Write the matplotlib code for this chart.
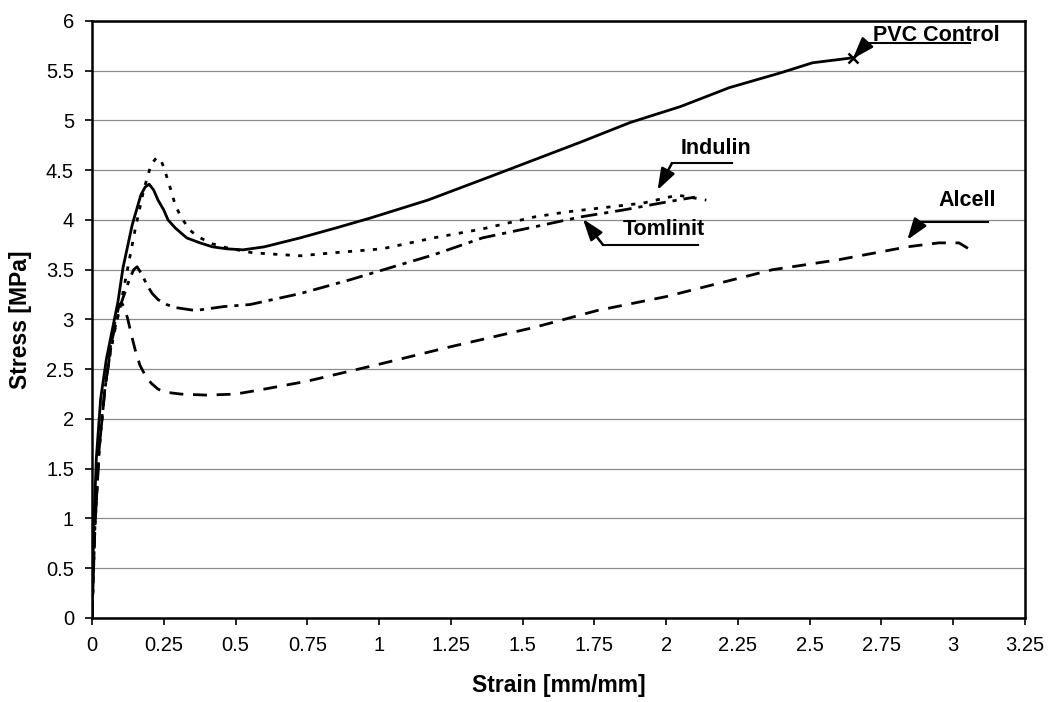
#!/usr/bin/env python3
# -*- coding: utf-8 -*-
"""
    Stress-strain curves for PVC blends (control and three lignins).
"""

import matplotlib
matplotlib.use('Agg')
import matplotlib.pyplot as plt

plt.rcParams['font.family'] = ['Liberation Sans', 'DejaVu Sans']

# strain [mm/mm] and stress [MPa]
pvc_x = [0, 0.005, 0.015, 0.03, 0.05, 0.073, 0.09, 0.108, 0.14, 0.17, 0.185,
         0.199, 0.215, 0.23, 0.25, 0.265, 0.29, 0.33, 0.376, 0.42, 0.47,
         0.526, 0.6, 0.725, 0.85, 0.97, 1.17, 1.4, 1.7, 1.875, 2.05, 2.22,
         2.4, 2.51, 2.65]
pvc_y = [0, 0.8, 1.6, 2.2, 2.6, 2.93, 3.17, 3.52, 3.95, 4.25, 4.33,
         4.36, 4.3, 4.2, 4.1, 4.0, 3.92, 3.82, 3.77, 3.73, 3.71,
         3.70, 3.73, 3.82, 3.92, 4.02, 4.2, 4.45, 4.78, 4.98, 5.14, 5.33,
         5.48, 5.58, 5.63]

indulin_x = [0, 0.01, 0.025, 0.04, 0.06, 0.08, 0.1, 0.12, 0.15, 0.18, 0.205,
             0.22, 0.23, 0.24, 0.25, 0.275, 0.29, 0.31, 0.34, 0.37, 0.42,
             0.47, 0.56, 0.725, 0.84, 1.01, 1.19, 1.36, 1.54, 1.65, 1.77,
             1.92, 2.04, 2.14]
indulin_y = [0, 0.9, 1.7, 2.2, 2.6, 2.9, 3.15, 3.45, 3.9, 4.3, 4.55,
             4.61, 4.63, 4.6, 4.53, 4.3, 4.15, 4.03, 3.9, 3.83, 3.76,
             3.72, 3.67, 3.64, 3.67, 3.71, 3.82, 3.91, 4.03, 4.08, 4.12,
             4.17, 4.25, 4.2]

tomlinit_x = [0, 0.01, 0.025, 0.045, 0.07, 0.1, 0.13, 0.145, 0.157, 0.17,
              0.195, 0.21, 0.23, 0.26, 0.29, 0.36, 0.46, 0.55, 0.725, 0.9,
              1.05, 1.19, 1.36, 1.54, 1.70, 1.85, 2.0, 2.1]
tomlinit_y = [0, 0.9, 1.7, 2.3, 2.8, 3.15, 3.4, 3.5, 3.53, 3.47,
              3.33, 3.26, 3.2, 3.15, 3.12, 3.09, 3.13, 3.15, 3.26, 3.40,
              3.53, 3.65, 3.82, 3.93, 4.03, 4.1, 4.18, 4.23]

alcell_x = [0, 0.01, 0.025, 0.045, 0.07, 0.095, 0.105, 0.115, 0.125, 0.136,
            0.15, 0.167, 0.185, 0.206, 0.23, 0.254, 0.31, 0.4, 0.5, 0.6,
            0.75, 1.0, 1.24, 1.54, 1.76, 2.0, 2.37, 2.6, 2.84, 2.95, 3.02,
            3.06]
alcell_y = [0, 0.9, 1.7, 2.3, 2.85, 3.15, 3.16, 3.1, 3.0, 2.86,
            2.7, 2.54, 2.44, 2.36, 2.3, 2.27, 2.25, 2.24, 2.25, 2.3,
            2.38, 2.55, 2.72, 2.92, 3.09, 3.23, 3.5, 3.6, 3.73, 3.77, 3.77,
            3.7]

x_ticks = [0, 0.25, 0.5, 0.75, 1, 1.25, 1.5, 1.75, 2, 2.25, 2.5, 2.75, 3, 3.25]
x_ticklabels = ['0', '0.25', '0.5', '0.75', '1', '1.25', '1.5', '1.75', '2',
                '2.25', '2.5', '2.75', '3', '3.25']
y_ticks = [0, 0.5, 1, 1.5, 2, 2.5, 3, 3.5, 4, 4.5, 5, 5.5, 6]
y_ticklabels = ['0', '0.5', '1', '1.5', '2', '2.5', '3', '3.5', '4', '4.5',
                '5', '5.5', '6']

fig = plt.figure(figsize=(10.49, 7.02), dpi=100)
ax = fig.add_axes([0.0877, 0.1197, 0.8894, 0.8504])

lw = 2.0
ax.plot(pvc_x, pvc_y, color='black', lw=lw, solid_joinstyle='round')
ax.plot(pvc_x[-1], pvc_y[-1], 'x', color='black', ms=7, mew=1.8)
ax.plot(indulin_x, indulin_y, color='black', lw=lw, dashes=(1.5, 3.0))
ax.plot(tomlinit_x, tomlinit_y, color='black', lw=lw, dashes=(6, 2.5, 1.5, 2.5))
ax.plot(alcell_x, alcell_y, color='black', lw=lw, dashes=(5, 3.5))

ax.set_xlim(0, 3.25)
ax.set_ylim(0, 6)
ax.set_xticks(x_ticks)
ax.set_xticklabels(x_ticklabels)
ax.set_yticks(y_ticks)
ax.set_yticklabels(y_ticklabels)
ax.tick_params(direction='out', length=5, width=1.2, labelsize=14.5, pad=8)
ax.yaxis.grid(True, color='#8c8c8c', lw=0.9)
ax.set_axisbelow(True)
for sp in ax.spines.values():
    sp.set_linewidth(1.8)

ax.set_xlabel('Strain [mm/mm]', fontsize=16.5, fontweight='bold', labelpad=14)
ax.set_ylabel('Stress [MPa]', fontsize=16.5, fontweight='bold', labelpad=10)


def callout(text, tx, ty, ux0, ux1, uy, tip):
    # Excel style label: text, underline and a filled arrow to the curve
    ax.text(tx, ty, text, fontsize=15.5, fontweight='bold', va='center',
            ha='left')
    ax.plot([ux0, ux1], [uy, uy], color='black', lw=1.5)
    ax.annotate('', xy=tip, xytext=(ux0, uy),
                arrowprops=dict(arrowstyle='-|>,head_length=1.3,head_width=0.45',
                                color='black', lw=1.8, shrinkA=0, shrinkB=0))


callout('PVC Control', 2.72, 5.85, 2.70, 3.06, 5.78, (2.65, 5.62))
callout('Indulin', 2.05, 4.72, 2.02, 2.23, 4.57, (1.97, 4.30))
callout('Tomlinit', 1.85, 3.90, 1.78, 2.11, 3.75, (1.71, 4.01))
callout('Alcell', 2.95, 4.20, 2.885, 3.12, 3.98, (2.84, 3.80))

fig.savefig('out.png', dpi=100)
